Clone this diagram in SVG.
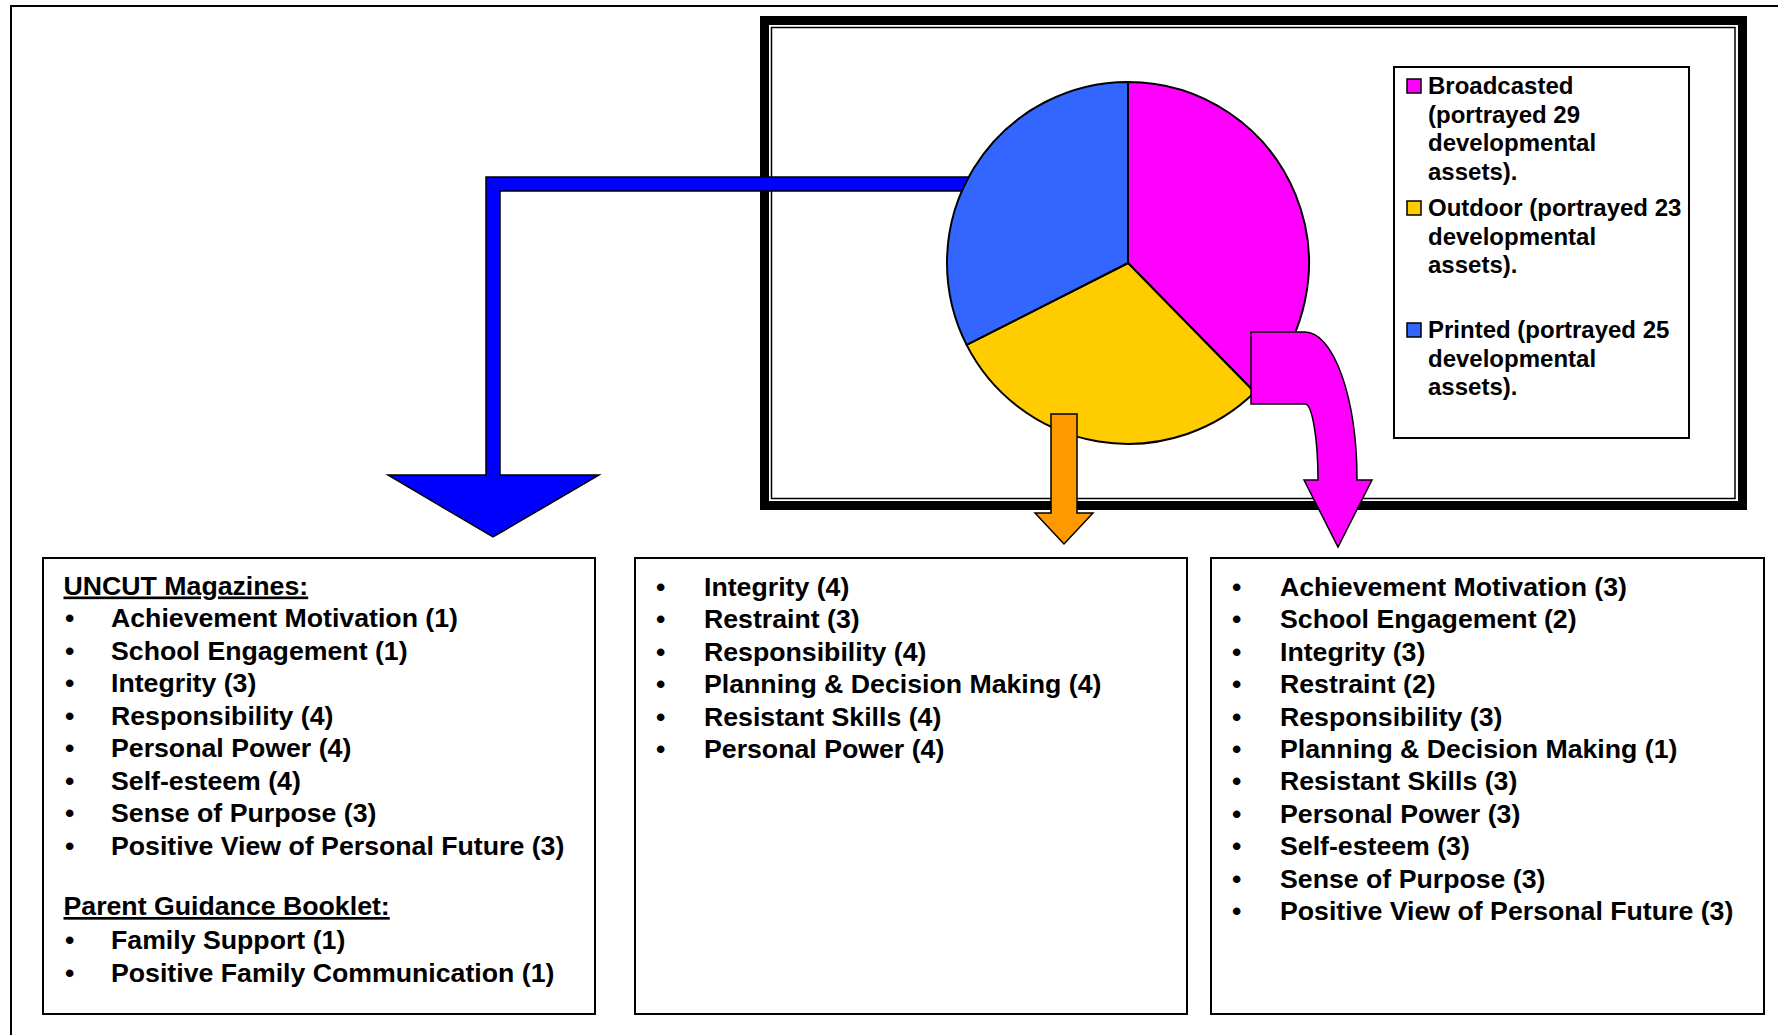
<svg xmlns="http://www.w3.org/2000/svg" width="1778" height="1035" viewBox="0 0 1778 1035">
<style>
.t{font-family:"Liberation Sans",Arial,sans-serif;font-weight:700;font-size:26.7px;fill:#000}
.lg{font-family:"Liberation Sans",Arial,sans-serif;font-weight:700;font-size:24px;fill:#000}
.u{text-decoration:underline}
.box{fill:#fff;stroke:#000;stroke-width:2}
.sl{stroke:#000;stroke-width:2;stroke-linejoin:round}
.ar{stroke:#000;stroke-width:1.5;stroke-linejoin:miter}
</style>
<rect width="1778" height="1035" fill="#fff"/>
<path d="M11,1035 V6 H1778" fill="none" stroke="#000" stroke-width="2"/>
<g id="chart-frame">
<rect x="764.5" y="20.5" width="978" height="485" fill="#fff" stroke="#000" stroke-width="9"/>
<rect x="771.5" y="27.5" width="963.5" height="471" fill="none" stroke="#000" stroke-width="1.5"/>
</g>
<g id="pie">
<path class="sl" fill="#FF00FF" d="M1128,263 L1128,82 A181,181 0 0 1 1254.6,392.3 Z"/>
<path class="sl" fill="#FFCC00" d="M1128,263 L1254.6,392.3 A181,181 0 0 1 966.6,344.9 Z"/>
<path class="sl" fill="#3366FF" d="M1128,263 L966.6,344.9 A181,181 0 0 1 1128,82 Z"/>
</g>
<g id="connectors">
<path class="ar" fill="#0000FF" d="M968.7,177 H486 V475 H388 L493,537 L599,475 H500 V191 H961.9 Z"/>
<path class="ar" fill="#FF9900" d="M1051,414 H1077 V513 H1093 L1064,544 L1035,513 H1051 Z"/>
<path class="ar" fill="#FF00FF" d="M1251,332 H1305 A52,148 0 0 1 1357,480 H1372 L1338,547 L1304,480 H1318 A13,76 0 0 0 1305,404 H1251 Z"/>
</g>
<g id="legend">
<rect x="1394" y="67" width="295" height="371" fill="#fff" stroke="#000" stroke-width="2"/>
<rect x="1407" y="79" width="14" height="14" fill="#FF00FF" stroke="#000" stroke-width="1.5"/>
<text class="lg" x="1428" y="94">Broadcasted</text>
<text class="lg" x="1428" y="122.7">(portrayed 29</text>
<text class="lg" x="1428" y="151.3">developmental</text>
<text class="lg" x="1428" y="180">assets).</text>
<rect x="1407" y="201" width="14" height="14" fill="#FFCC00" stroke="#000" stroke-width="1.5"/>
<text class="lg" x="1428" y="216">Outdoor (portrayed 23</text>
<text class="lg" x="1428" y="244.7">developmental</text>
<text class="lg" x="1428" y="273.3">assets).</text>
<rect x="1407" y="323" width="14" height="14" fill="#3366FF" stroke="#000" stroke-width="1.5"/>
<text class="lg" x="1428" y="338">Printed (portrayed 25</text>
<text class="lg" x="1428" y="366.6">developmental</text>
<text class="lg" x="1428" y="395">assets).</text>
</g>
<g id="box-printed">
<rect class="box" x="43" y="558" width="552" height="456"/>
<text class="t u" x="63.5" y="594.5">UNCUT Magazines:</text>
<g class="t">
<text x="65" y="627">•</text><text x="111" y="627">Achievement Motivation (1)</text>
<text x="65" y="659.5">•</text><text x="111" y="659.5">School Engagement (1)</text>
<text x="65" y="692">•</text><text x="111" y="692">Integrity (3)</text>
<text x="65" y="724.5">•</text><text x="111" y="724.5">Responsibility (4)</text>
<text x="65" y="757">•</text><text x="111" y="757">Personal Power (4)</text>
<text x="65" y="789.5">•</text><text x="111" y="789.5">Self-esteem (4)</text>
<text x="65" y="822">•</text><text x="111" y="822">Sense of Purpose (3)</text>
<text x="65" y="854.5">•</text><text x="111" y="854.5">Positive View of Personal Future (3)</text>
</g>
<text class="t u" x="63.5" y="915">Parent Guidance Booklet:</text>
<g class="t">
<text x="65" y="948.5">•</text><text x="111" y="948.5">Family Support (1)</text>
<text x="65" y="981.5">•</text><text x="111" y="981.5">Positive Family Communication (1)</text>
</g>
</g>
<g id="box-outdoor">
<rect class="box" x="635" y="558" width="552" height="456"/>
<g class="t">
<text x="656" y="596">•</text><text x="704" y="596">Integrity (4)</text>
<text x="656" y="628.4">•</text><text x="704" y="628.4">Restraint (3)</text>
<text x="656" y="660.8">•</text><text x="704" y="660.8">Responsibility (4)</text>
<text x="656" y="693.2">•</text><text x="704" y="693.2">Planning &amp; Decision Making (4)</text>
<text x="656" y="725.6">•</text><text x="704" y="725.6">Resistant Skills (4)</text>
<text x="656" y="758">•</text><text x="704" y="758">Personal Power (4)</text>
</g>
</g>
<g id="box-broadcasted">
<rect class="box" x="1211" y="558" width="553" height="456"/>
<g class="t">
<text x="1232" y="596">•</text><text x="1280" y="596">Achievement Motivation (3)</text>
<text x="1232" y="628.4">•</text><text x="1280" y="628.4">School Engagement (2)</text>
<text x="1232" y="660.8">•</text><text x="1280" y="660.8">Integrity (3)</text>
<text x="1232" y="693.2">•</text><text x="1280" y="693.2">Restraint (2)</text>
<text x="1232" y="725.6">•</text><text x="1280" y="725.6">Responsibility (3)</text>
<text x="1232" y="758">•</text><text x="1280" y="758">Planning &amp; Decision Making (1)</text>
<text x="1232" y="790.4">•</text><text x="1280" y="790.4">Resistant Skills (3)</text>
<text x="1232" y="822.8">•</text><text x="1280" y="822.8">Personal Power (3)</text>
<text x="1232" y="855.2">•</text><text x="1280" y="855.2">Self-esteem (3)</text>
<text x="1232" y="887.6">•</text><text x="1280" y="887.6">Sense of Purpose (3)</text>
<text x="1232" y="920">•</text><text x="1280" y="920">Positive View of Personal Future (3)</text>
</g>
</g>
</svg>
